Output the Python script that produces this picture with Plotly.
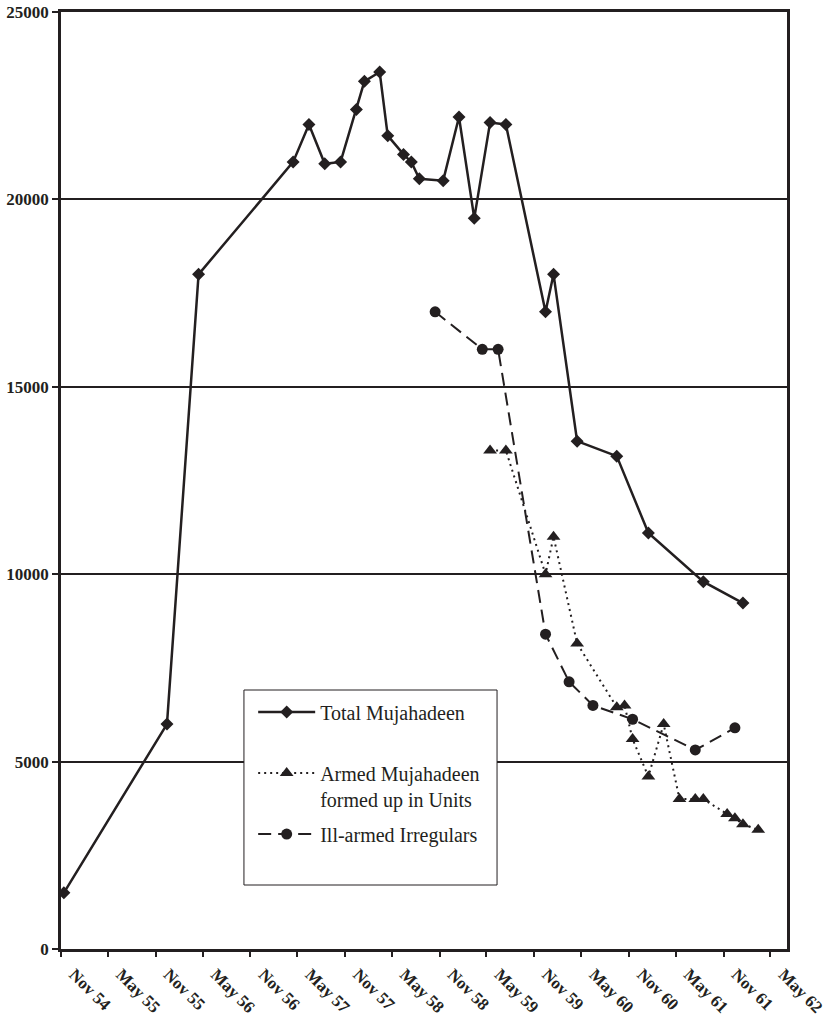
import plotly.graph_objects as go

# Total Mujahadeen
total_dates = [
    "1954-11-12", "1955-12-15", "1956-04-15", "1957-04-15", "1957-06-15",
    "1957-08-15", "1957-10-15", "1957-12-15", "1958-01-15", "1958-03-15",
    "1958-04-15", "1958-06-15", "1958-07-15", "1958-08-15", "1958-11-15",
    "1959-01-15", "1959-03-15", "1959-05-15", "1959-07-15", "1959-12-15",
    "1960-01-15", "1960-04-15", "1960-09-15", "1961-01-15", "1961-08-15",
    "1962-01-15",
]
total_values = [
    1500, 6000, 18000, 21000, 22000,
    20950, 21000, 22400, 23150, 23400,
    21700, 21200, 21000, 20550, 20500,
    22200, 19500, 22050, 22000, 17000,
    18000, 13550, 13150, 11100, 9800,
    9230,
]

# Armed Mujahadeen formed up in units
armed_dates = [
    "1959-05-15", "1959-07-15", "1959-12-15", "1960-01-15", "1960-04-15",
    "1960-09-15", "1960-10-15", "1960-11-15", "1961-01-15", "1961-03-15",
    "1961-05-15", "1961-07-15", "1961-08-15", "1961-11-15", "1961-12-15",
    "1962-01-15", "1962-03-15",
]
armed_values = [
    13300, 13300, 10000, 11000, 8150,
    6450, 6500, 5600, 4600, 6000,
    4000, 4000, 4000, 3600, 3490,
    3330, 3180,
]

# Ill-armed irregulars
irregular_dates = [
    "1958-10-15", "1959-04-15", "1959-06-15", "1959-12-15", "1960-03-15",
    "1960-06-15", "1960-11-15", "1961-07-15", "1961-12-15",
]
irregular_values = [17000, 16000, 16000, 8400, 7130, 6500, 6130, 5310, 5900]

tick_dates = [
    "1954-11-01", "1955-05-01", "1955-11-01", "1956-05-01", "1956-11-01",
    "1957-05-01", "1957-11-01", "1958-05-01", "1958-11-01", "1959-05-01",
    "1959-11-01", "1960-05-01", "1960-11-01", "1961-05-01", "1961-11-01",
    "1962-05-01",
]
tick_labels = [
    "Nov 54", "May 55", "Nov 55", "May 56", "Nov 56", "May 57", "Nov 57",
    "May 58", "Nov 58", "May 59", "Nov 59", "May 60", "Nov 60", "May 61",
    "Nov 61", "May 62",
]

ink = "#231f20"
serif = "Liberation Serif"

fig = go.Figure()

fig.add_trace(go.Scatter(
    x=total_dates, y=total_values, name="Total Mujahadeen<br>&nbsp;",
    mode="lines+markers", legendgroup="a",
    line=dict(color=ink, width=2.5),
    marker=dict(symbol="diamond", size=10, color=ink),
))
fig.add_trace(go.Scatter(
    x=armed_dates, y=armed_values,
    name="Armed Mujahadeen<br>formed up in Units",
    mode="lines+markers", legendgroup="b",
    line=dict(color=ink, width=2, dash="2px,4px"),
    marker=dict(symbol="triangle-up", size=12, color=ink),
))
fig.add_trace(go.Scatter(
    x=irregular_dates, y=irregular_values, name="Ill-armed Irregulars",
    mode="lines+markers", legendgroup="c",
    line=dict(color=ink, width=2, dash="13px,7px"),
    marker=dict(symbol="circle", size=11, color=ink),
))

# legend frame
fig.add_shape(
    type="rect", xref="paper", yref="paper",
    x0=0.252, x1=0.6006, y0=0.0683, y1=0.2764,
    line=dict(color=ink, width=1), fillcolor="white", layer="above",
)

fig.update_layout(
    width=831, height=1017,
    margin=dict(l=61, r=44, t=12, b=68),
    plot_bgcolor="white", paper_bgcolor="white",
    showlegend=True,
    legend=dict(
        x=0.2647, y=0.2737, xanchor="left", yanchor="top",
        bgcolor="rgba(0,0,0,0)", borderwidth=0,
        font=dict(family=serif, size=20, color=ink),
        itemwidth=57, tracegroupgap=6, valign="top",
    ),
    xaxis=dict(
        type="date", range=["1954-11-01", "1962-07-04"], automargin=False,
        tickvals=tick_dates, ticktext=tick_labels, tickangle=45,
        ticklabelshift=13, ticklabelstandoff=1,
        tickfont=dict(family=serif, size=17, color=ink, weight="bold"),
        ticks="outside", ticklen=5, tickwidth=1.5, tickcolor=ink,
        showgrid=False, zeroline=False,
        showline=True, linecolor=ink, linewidth=2.5, mirror=True,
    ),
    yaxis=dict(
        range=[0, 25000], tickvals=[0, 5000, 10000, 15000, 20000, 25000],
        tickformat="d", automargin=False,
        tickfont=dict(family=serif, size=17, color=ink, weight="bold"),
        ticks="outside", ticklen=6, tickwidth=1.5, tickcolor=ink,
        showgrid=True, gridcolor=ink, gridwidth=1.5, zeroline=False,
        showline=True, linecolor=ink, linewidth=2.5, mirror=True,
    ),
)

# drop the page's default body margin so the figure fills the window
fig.write_html(
    "out.html",
    config={"displayModeBar": False},
    post_script="document.body.style.margin = '0';",
)
